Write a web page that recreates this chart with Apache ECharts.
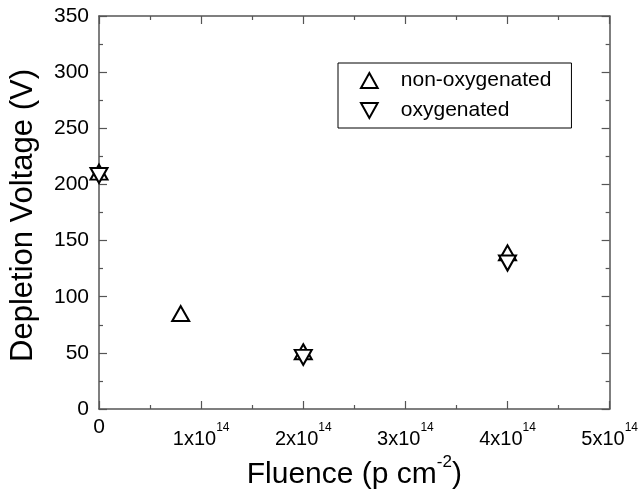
<!DOCTYPE html>
<html>
<head>
<meta charset="utf-8">
<script src="https://cdn.jsdelivr.net/npm/echarts@6/dist/echarts.min.js"></script>
<style>html,body{margin:0;padding:0;background:#fff}#c{width:641px;height:498px}</style>
</head>
<body>
<div id="c"></div>
<script>
// Data
var seriesNames = ['non-oxygenated', 'oxygenated'];
var nonOxygenated = [[0, 211], [0.8e14, 85], [2e14, 51], [4e14, 139]];
var oxygenated = [[0, 208], [2e14, 46], [4e14, 130]];
var xTicks = [0, 1e14, 2e14, 3e14, 4e14, 5e14];
var yTicks = [0, 50, 100, 150, 200, 250, 300, 350];

var FONT = 'Liberation Sans, Arial, sans-serif';
var downTri = 'path://M0,0 L20,0 L10,18 Z';
var upTri = 'path://M10,0 L20,18 L0,18 Z';

function xLabel(v) {
  if (v === 0) return '{z|0}';
  var m = Math.round(v / 1e14);
  return '{a|' + m + 'x10}{b|14}';
}

var axisColor = '#555';
var chart = echarts.init(document.getElementById('c'), null, {renderer: 'canvas'});
var baseX = {
  type: 'value', min: xTicks[0], max: xTicks[xTicks.length - 1], interval: 1e14,
  axisLine: {show: true, onZero: false, lineStyle: {color: axisColor, width: 1.5}},
  axisTick: {show: true, inside: true, length: 8, lineStyle: {color: axisColor, width: 1.2}},
  minorTick: {show: true, splitNumber: 2, length: 4, lineStyle: {color: axisColor, width: 1.2}},
  splitLine: {show: false}
};
var baseY = {
  type: 'value', min: yTicks[0], max: yTicks[yTicks.length - 1], interval: 50,
  axisLine: {show: true, onZero: false, lineStyle: {color: axisColor, width: 1.5}},
  axisTick: {show: true, inside: true, length: 8, lineStyle: {color: axisColor, width: 1.2}},
  minorTick: {show: true, splitNumber: 2, length: 4, lineStyle: {color: axisColor, width: 1.2}},
  splitLine: {show: false}
};

chart.setOption({
  animation: false,
  backgroundColor: '#fff',
  grid: {left: 98, right: 29, top: 16, bottom: 89},
  legend: {
    orient: 'vertical', left: 338, top: 63,
    borderColor: '#000', borderWidth: 1,
    padding: [7, 20, 7, 22],
    itemWidth: 17, itemHeight: 15, itemGap: 9,
    textStyle: {fontFamily: FONT, fontSize: 21, color: '#000', padding: [0, 0, 0, 18]},
    data: seriesNames
  },
  xAxis: [
    Object.assign({}, baseX, {
      position: 'bottom',
      name: '{t|Fluence (p cm}{s|-2}{t|)}',
      nameLocation: 'middle', nameGap: 41,
      nameTextStyle: {
        fontFamily: FONT, color: '#000',
        rich: {
          t: {fontFamily: FONT, fontSize: 30, color: '#000', padding: [6, 0, 0, 0]},
          s: {fontFamily: FONT, fontSize: 17, color: '#000', verticalAlign: 'top'}
        }
      },
      axisLabel: {
        margin: 8, formatter: xLabel, verticalAlign: 'top',
        rich: {
          z: {fontFamily: FONT, fontSize: 21, color: '#000'},
          a: {fontFamily: FONT, fontSize: 20, color: '#000', padding: [12, 0, 0, 0]},
          b: {fontFamily: FONT, fontSize: 12, color: '#000', verticalAlign: 'top', padding: [5, 0, 0, 0]}
        }
      }
    }),
    Object.assign({}, baseX, {position: 'top', axisLabel: {show: false}})
  ],
  yAxis: [
    Object.assign({}, baseY, {
      position: 'left',
      name: 'Depletion Voltage (V)',
      nameLocation: 'middle', nameGap: 60,
      nameTextStyle: {fontFamily: FONT, fontSize: 31, color: '#000', padding: [0, 6, 0, 0]},
      axisLabel: {margin: 10, fontFamily: FONT, fontSize: 21, color: '#000'}
    }),
    Object.assign({}, baseY, {position: 'right', axisLabel: {show: false}})
  ],
  series: [
    {
      name: seriesNames[0], type: 'scatter', data: nonOxygenated,
      symbol: upTri, symbolSize: [17, 15], clip: false,
      itemStyle: {color: '#fff', borderColor: '#000', borderWidth: 2, opacity: 1},
      z: 3
    },
    {
      name: seriesNames[1], type: 'scatter', data: oxygenated,
      symbol: downTri, symbolSize: [17, 15], clip: false,
      itemStyle: {color: '#fff', borderColor: '#000', borderWidth: 2, opacity: 1},
      z: 4
    }
  ]
});
</script>
</body>
</html>
